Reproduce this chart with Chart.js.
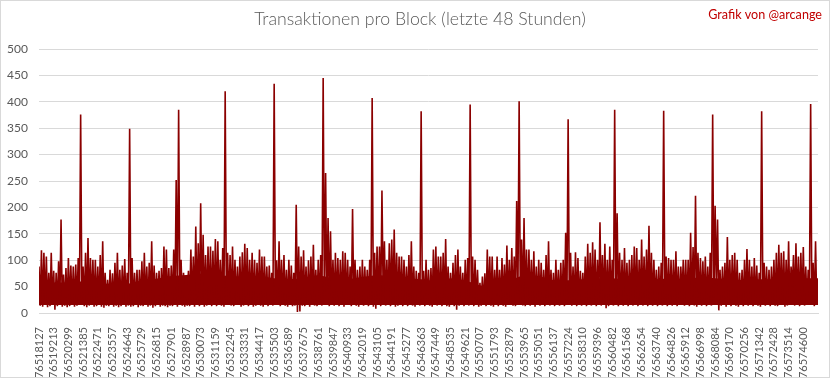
<!DOCTYPE html>
<html><head><meta charset="utf-8">
<script src="https://cdn.jsdelivr.net/npm/chart.js@4/dist/chart.umd.min.js"></script>
<style>html,body{margin:0;padding:0;background:#fff}</style>
</head><body>
<canvas id="c" width="833" height="379"></canvas>
<script>
// Tick labels (block numbers)
const blockLabels = ["76518127","76519213","76520299","76521385","76522471","76523557","76524643","76525729","76526815","76527901","76528987","76530073","76531159","76532245","76533331","76534417","76535503","76536589","76537675","76538761","76539847","76540933","76542019","76543105","76544191","76545277","76546363","76547449","76548535","76549621","76550707","76551793","76552879","76553965","76555051","76556137","76557224","76558310","76559396","76560482","76561568","76562654","76563740","76564826","76565912","76566998","76568084","76569170","76570256","76571342","76572428","76573514","76574600"];
const BINS_PER_LABEL = 6;

// Max transactions per block, per bin
const highs = [
88,119,114,107,76,114,80,76,98,177,73,85,104,90,88,92,104,376,88,114,
142,104,101,101,88,110,136,76,63,82,75,95,114,82,90,102,76,349,104,76,
82,82,98,114,88,95,136,90,76,80,85,126,120,85,
90,120,252,385,101,76,69,80,120,107,164,132,208,148,110,126,126,118,140,136,
101,123,420,114,110,126,101,88,107,115,131,123,101,114,101,95,120,107,107,88,
90,76,434,100,136,101,110,82,101,90,76,205,126,
107,119,88,100,107,129,82,101,110,445,265,180,155,101,114,104,101,117,114,101,
88,197,101,82,88,101,88,82,101,407,114,126,126,232,136,101,132,139,158,114,
107,107,101,88,110,136,88,80,76,382,80,101,82,
85,120,126,107,107,114,140,88,76,95,110,120,88,76,101,104,395,107,101,82,
57,69,75,120,107,107,82,107,82,104,92,128,101,123,107,212,401,139,180,120,
120,101,117,88,101,95,82,110,136,82,76,101,82,
95,101,152,367,114,88,115,104,80,76,107,131,114,134,120,101,172,110,131,101,
126,101,385,189,114,101,123,95,101,110,126,123,101,139,107,120,165,114,101,82,
88,95,383,107,104,101,101,117,88,88,101,101,101,
152,125,222,114,104,98,107,88,114,376,203,177,82,88,95,144,101,110,114,101,
76,82,101,121,101,88,104,90,76,382,95,88,82,88,101,114,129,114,117,101,
136,88,110,132,107,114,125,88,82,396,95,136
];
// Min transactions per block, per bin
const lows = [
14,12,15,11,13,16, 6,13,15,12,14,11, 13,15,12,14,16,25, 13,11,14,15,12,13,
15,12,10,14,13,16, 12,14,11,13,15,12, 14,12,13,15,11,14, 13,16,12,14,10,13,
15,12,14,13,11,14, 13,15,12,17,14,12, 14,13,16,12,15,13, 15,12,14,17,13,15,
13,16,14,12,18,15, 14,13,16,15,12,14, 16,13,15,12,14,17, 14,12,15,13,16,14,
18,15,13,16,14,12, 15,13,14,2,3,14, 13,16,12,15,14,13, 16,14,18,15,13,16,
14,17,13,15,12,16, 15,13,16,14,12,15, 14,16,13,15,12,8, 15,13,33,14,16,13,
15,12,14,17,13,15, 13,16,14,12,15,14, 16,13,15,14,12,15, 14,16,13,15,13,12,
15,13,6,14,16,13, 15,14,17,13,15,12, 14,16,13,15,14,12, 15,13,16,14,12,15,
16,14,13,32,15,14, 13,16,14,15,12,16, 14,15,13,16,14,15, 13,16,14,15,13,16,
18,14,16,13,15,14, 16,13,15,14,17,13, 15,14,16,9,13,15, 14,16,13,15,14,16,
13,15,14,16,13,15, 14,16,13,15,14,17, 13,15,14,16,13,15, 14,16,13,15,35,14,
16,13,15,14,12,16, 14,15,13,16,14,15, 50,5,14,16,12,15, 13,15,14,12,16,13,
15,14,16,13,15,14, 12,16,14,15,13,16, 14,13,16,15,12,14, 16,50,14,15,13,16,
14,15,32,15,13,16
];
// Level up to which the band is solid, one value per label interval
const bandCore = [62,58,58,60,55,56,55,62,65,70,72,75,72,70,68,70,66,64,66,72,66,64,68,72,70,66,64,60,66,62,52,50,62,72,70,62,62,64,66,66,64,66,64,66,64,68,66,64,62,64,64,66,66,66];

const points = [];
highs.forEach((h, i) => {
  points.push({x: i, y: h});
  points.push({x: i + 0.5, y: lows[i]});
});
const corePoints = bandCore.map((v, k) => ({x: k * BINS_PER_LABEL, y: v}));
const totalBins = highs.length;

const decor = {
  id: 'decor',
  beforeDraw(chart) {
    const ctx = chart.ctx;
    ctx.save();
    ctx.fillStyle = '#fff';
    ctx.fillRect(0, 0, chart.width, chart.height);
    ctx.restore();
  },
  afterDraw(chart) {
    const ctx = chart.ctx;
    ctx.save();
    ctx.strokeStyle = '#d9d9d9';
    ctx.lineWidth = 1;
    ctx.strokeRect(0.5, 0.5, 829, 377);
    ctx.textBaseline = 'middle';
    ctx.textAlign = 'center';
    ctx.fillStyle = '#595959';
    ctx.font = '300 17.7px Lato';
    ctx.fillText('Transaktionen pro Block (letzte 48 Stunden)', 420, 19);
    ctx.fillStyle = '#c00000';
    ctx.font = '12.6px Lato';
    ctx.textAlign = 'right';
    ctx.fillText('Grafik von @arcange', 822, 15);
    ctx.restore();
  }
};

new Chart(document.getElementById('c'), {
  type: 'line',
  data: {
    datasets: [{
      label: 'Transaktionen',
      data: points,
      borderColor: '#8b0000',
      backgroundColor: '#8b0000',
      borderWidth: 1.6,
      borderJoinStyle: 'bevel',
      pointRadius: 0,
      tension: 0,
      fill: false,
      order: 1
    }, {
      label: 'Kern',
      data: corePoints,
      borderColor: '#8b0000',
      backgroundColor: '#8b0000',
      borderWidth: 0,
      pointRadius: 0,
      tension: 0,
      fill: {target: {value: 15}},
      order: 2
    }]
  },
  options: {
    responsive: false,
    animation: false,
    devicePixelRatio: 1,
    layout: {padding: {left: 0, right: 15, top: 49, bottom: 0}},
    plugins: {
      legend: {display: false},
      tooltip: {enabled: false},
      title: {display: false}
    },
    scales: {
      x: {
        type: 'linear',
        min: 0,
        max: totalBins,
        grid: {display: false},
        border: {display: true, color: '#d9d9d9'},
        afterBuildTicks: (scale) => {
          scale.ticks = blockLabels.map((_, k) => ({value: k * BINS_PER_LABEL}));
        },
        afterFit: (scale) => { scale.height = 66; },
        ticks: {
          autoSkip: false,
          maxRotation: 90,
          minRotation: 90,
          padding: 6,
          color: '#595959',
          font: {family: 'Lato', size: 11},
          callback: (v, i) => blockLabels[i]
        }
      },
      y: {
        min: 0,
        max: 500,
        grid: {color: '#d9d9d9', drawTicks: false},
        border: {display: false},
        afterFit: (scale) => { scale.width = 39; },
        ticks: {
          stepSize: 50,
          padding: 11,
          color: '#595959',
          font: {family: 'Lato', size: 12}
        }
      }
    }
  },
  plugins: [decor]
});
</script>
</body></html>
